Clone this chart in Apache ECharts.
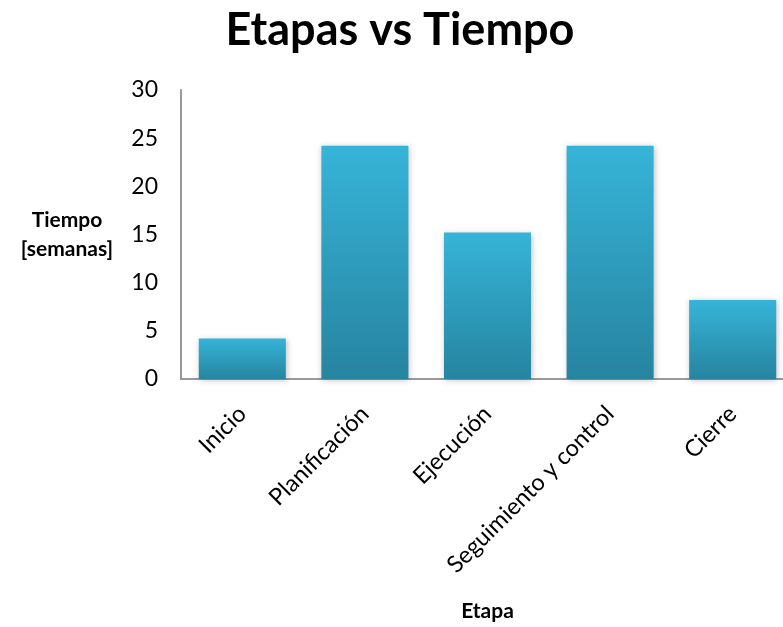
<!DOCTYPE html>
<html>
<head>
<meta charset="utf-8">
<script src="https://cdn.jsdelivr.net/npm/echarts@6/dist/echarts.min.js"></script>
<style>
  html, body { margin: 0; padding: 0; background: #fff; }
  #chart { width: 783px; height: 627px; }
</style>
</head>
<body>
<div id="chart"></div>
<script>
const etapas = ['Inicio', 'Planificación', 'Ejecución', 'Seguimiento y control', 'Cierre'];
const semanas = [4.2, 24.2, 15.2, 24.2, 8.2];
const FONT = 'Lato';

const chart = echarts.init(document.getElementById('chart'), null, { renderer: 'canvas' });
chart.setOption({
  animation: false,
  title: {
    text: 'Etapas vs Tiempo',
    left: 395,
    top: 3,
    textAlign: 'center',
    textStyle: { fontFamily: FONT, fontSize: 45, fontWeight: 'bold', color: '#000' },
  },
  grid: { left: 181, right: -11, top: 90, bottom: 248, outerBoundsMode: 'none', containLabel: false },
  xAxis: {
    type: 'category',
    data: etapas,
    name: 'Etapa',
    nameLocation: 'middle',
    nameGap: 222,
    nameTextStyle: { fontFamily: FONT, fontSize: 21, fontWeight: 'bold', color: '#000' },
    axisLine: { lineStyle: { color: '#999', width: 2 } },
    axisTick: { show: false },
    axisLabel: { rotate: 45, interval: 0, margin: 31, fontFamily: FONT, fontSize: 23.5, color: '#000' },
  },
  yAxis: {
    type: 'value',
    min: 0,
    max: 30,
    interval: 5,
    name: 'Tiempo\n[semanas]',
    nameLocation: 'middle',
    nameRotate: 0,
    nameGap: 114,
    nameTextStyle: { fontFamily: FONT, fontSize: 21, fontWeight: 'bold', color: '#000', align: 'center', lineHeight: 29 },
    axisLine: { show: true, lineStyle: { color: '#999', width: 2 } },
    axisTick: { show: false },
    splitLine: { show: false },
    axisLabel: { margin: 23, fontFamily: FONT, fontSize: 23, color: '#000' },
  },
  series: [
    {
      type: 'bar',
      data: semanas,
      barWidth: '71%',
      itemStyle: {
        color: new echarts.graphic.LinearGradient(0, 0, 0, 1, [
          { offset: 0, color: '#36b4d8' },
          { offset: 1, color: '#2684a0' },
        ]),
        shadowColor: 'rgba(0,0,0,0.25)',
        shadowBlur: 6,
        shadowOffsetX: 1,
        shadowOffsetY: 1,
      },
    },
  ],
});
</script>
</body>
</html>
